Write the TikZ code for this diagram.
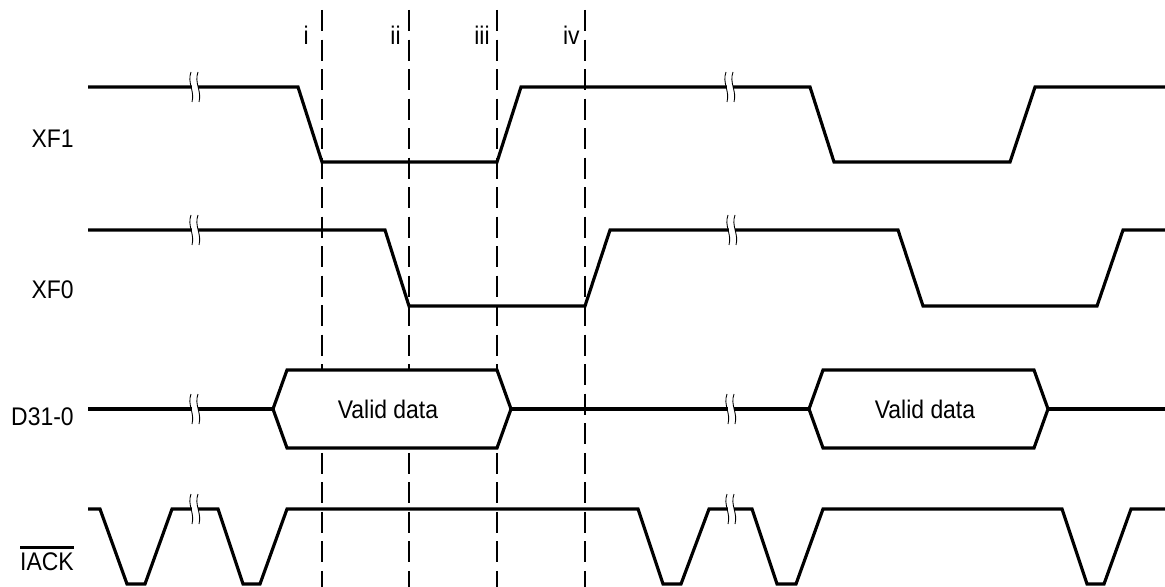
\documentclass[tikz,border=0pt]{standalone}
\usepackage{fontspec}
\setmainfont{Liberation Sans}[FakeStretch=0.9]
\usepackage{tikz}
\usetikzlibrary{positioning}

\newcommand{\barred}[1]{\vbox{\hrule height 1.6pt \kern 2pt \hbox{#1}}}

\begin{document}
\begin{tikzpicture}[
    x=0.02cm, y=-0.02cm,
    sig/.style={line width=1.8pt, line join=miter},
    bus/.style={sig, fill=white},
    cursor/.style={line width=1.1pt, dash pattern=on 12pt off 4.8pt},
    lbl/.style={font=\fontsize{14.5}{17}\selectfont, inner sep=0pt, anchor=base east},
    txt/.style={font=\fontsize{14.5}{17}\selectfont, inner sep=0pt},
    brk/.pic={
        \fill[white] (-3,-5) rectangle (3,5);
        \draw[line width=0.5pt] (-4,-15) .. controls (-8,-4) and (0,4) .. (-3,15);
        \draw[line width=0.5pt] (3,-15) .. controls (-1,-4) and (7,4) .. (4,15);
    }
]
\useasboundingbox (0,0) rectangle (1165,587);

% signal names
\node[lbl] (xf1) at (74,148) {XF1};
\node[lbl] (xf0) at (74,298) {XF0};
\node[lbl] (d31) at (74,425) {D31-0};
\node[lbl] (iack) at (74,570) {\barred{IACK}};

% cursors
\draw[cursor] (322,10) -- (322,587);
\draw[cursor] (409,10) -- (409,587);
\draw[cursor] (497,10) -- (497,587);
\draw[cursor] (585,10) -- (585,587);
\node[lbl] (ci) at (309,45) {i};
\node[lbl] (cii) at (401,45) {ii};
\node[lbl] (ciii) at (490,45) {iii};
\node[lbl] (civ) at (580,45) {iv};

% XF1
\draw[sig] (88,87) -- (298,87) -- (322,162) -- (497,162) -- (521,87) -- (810,87)
    -- (834,162) -- (1010,162) -- (1035,87) -- (1165,87);
% XF0
\draw[sig] (88,230) -- (385,230) -- (409,306) -- (585,306) -- (610,230) -- (898,230)
    -- (923,306) -- (1097,306) -- (1123,230) -- (1165,230);
% D31-0
\draw[sig] (88,409) -- (273,409);
\draw[bus] (273,409) -- (287,370) -- (497,370) -- (511,409) -- (497,448) -- (287,448) -- cycle;
\draw[sig] (511,409) -- (809,409);
\draw[bus] (809,409) -- (823,370) -- (1034,370) -- (1048,409) -- (1034,448) -- (823,448) -- cycle;
\draw[sig] (1048,409) -- (1165,409);
\node[txt] (vd1) at (388,409) {Valid data};
\node[txt] (vd2) at (925,409) {Valid data};
% IACK
\draw[sig] (88,509) -- (100,509) -- (127,584) -- (145,584) -- (172,509) -- (218,509)
    -- (243,584) -- (260,584) -- (287,509) -- (638,509) -- (663,584) -- (681,584)
    -- (709,509) -- (752,509) -- (777,584) -- (796,584) -- (823,509) -- (1062,509)
    -- (1087,584) -- (1104,584) -- (1131,509) -- (1165,509);

% breaks
\pic at (195,87) {brk};
\pic at (730,87) {brk};
\pic at (195,230) {brk};
\pic at (732,230) {brk};
\pic at (195,409) {brk};
\pic at (731,409) {brk};
\pic at (195,509) {brk};
\pic at (731,509) {brk};
\end{tikzpicture}
\end{document}
